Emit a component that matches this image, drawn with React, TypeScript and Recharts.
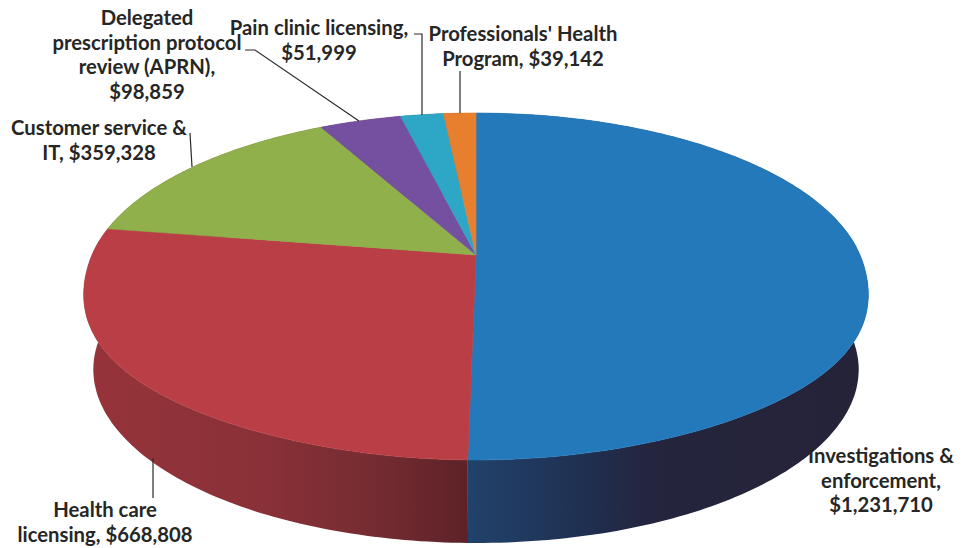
import React from "react";
import { PieChart, Pie } from "recharts";

const categories = [
  "Investigations & enforcement",
  "Health care licensing",
  "Customer service & IT",
  "Delegated prescription protocol review (APRN)",
  "Pain clinic licensing",
  "Professionals' Health Program",
];
const amounts = [1231710, 668808, 359328, 98859, 51999, 39142];
const topColors = ["#2479bb", "#b93e45", "#8fb04a", "#7550a0", "#2ea6c6", "#e87f2e"];
const wallIds = ["wallBlue", "wallRed", "wallRed", "wallRed", "wallRed", "wallRed"];

const labelLines = [
  ["Investigations &", "enforcement,", "$1,231,710"],
  ["Health care", "licensing, $668,808"],
  ["Customer service &", "IT, $359,328"],
  ["Delegated", "prescription protocol", "review (APRN),", "$98,859"],
  ["Pain clinic licensing,", "$51,999"],
  ["Professionals' Health", "Program, $39,142"],
];

// label anchor (centre x, first baseline) and leader line for each slice
const labelPos = [
  { x: 881, y: 463, leader: "" },
  { x: 105, y: 517, leader: "M153,458 L153,498" },
  { x: 99, y: 135, leader: "M190,133 L192,167" },
  { x: 147, y: 25, leader: "M245,50 L255,50 L359,121" },
  { x: 319, y: 35, leader: "M414,34 L422,34 L422,115" },
  { x: 523, y: 41, leader: "M460,71 L460,113" },
];

const data = categories.map((name, i) => ({ name, value: amounts[i], fill: topColors[i] }));

// the pie is tilted: project the circle with a small perspective so that the
// apex sits above the middle of the ellipse, like the 3-D chart it copies
const CX = 476;
const APEX_Y = 255;
const TOP_Y = 113;
const BOTTOM_Y = 460;
const WIDTH_R = 384;
const DEPTH = 83;
const persp = (2 * APEX_Y - TOP_Y - BOTTOM_Y) / (TOP_Y - BOTTOM_Y);
const tilt = TOP_Y + TOP_Y * persp - APEX_Y;

function project(angle: number, lower = false) {
  const t = ((90 - angle) * Math.PI) / 180;
  const u = Math.sin(t);
  const v = Math.cos(t);
  const den = 1 + persp * v;
  // the near half of the upper rim is a little fuller than a plain ellipse
  const bulge = v < 0 && !lower ? 1 + 0.12 * (u * v) ** 2 : 1;
  const r = (lower ? WIDTH_R * 0.98 : WIDTH_R) * bulge;
  return {
    x: CX + (r * u) / den,
    y: (tilt * v + APEX_Y) / den + (lower ? DEPTH : 0),
  };
}

function arc(start: number, end: number, lower = false) {
  const pts = [];
  const n = Math.max(2, Math.ceil(Math.abs(end - start)));
  for (let i = 0; i <= n; i++) {
    pts.push(project(start + ((end - start) * i) / n, lower));
  }
  return pts;
}

const toPath = (pts: { x: number; y: number }[]) =>
  pts.map((p, i) => `${i ? "L" : "M"}${p.x.toFixed(1)},${p.y.toFixed(1)}`).join(" ") + " Z";

function TopSlice(props: any) {
  const pts = [{ x: CX, y: APEX_Y }, ...arc(props.startAngle, props.endAngle)];
  return <path d={toPath(pts)} fill={props.fill} stroke={props.fill} strokeWidth={0.6} />;
}

// one quad per step, all in a single path, so the wall keeps its straight
// sides where the upper and lower rims turn away from each other
function WallSlice(props: any) {
  const idx = categories.indexOf(props.name);
  const upper = arc(props.startAngle, props.endAngle);
  const lower = arc(props.startAngle, props.endAngle, true);
  const quads = [];
  for (let i = 0; i < upper.length - 1; i++) {
    quads.push(toPath([upper[i], upper[i + 1], lower[i + 1], lower[i]]));
  }
  return <path d={quads.join(" ")} fill={`url(#${wallIds[idx]})`} />;
}

function renderLabel(props: any) {
  const idx = categories.indexOf(props.name);
  const pos = labelPos[idx];
  return (
    <g key={props.name}>
      {pos.leader ? <path d={pos.leader} fill="none" stroke="#2b2b2b" strokeWidth={1.2} /> : null}
      <text
        textAnchor="middle"
        fontFamily="Lato"
        fontWeight={700}
        fontSize={20.3}
        fill="#262626"
      >
        {labelLines[idx].map((line, i) => (
          <tspan key={line} x={pos.x} y={pos.y + i * 24.6}>
            {line}
          </tspan>
        ))}
      </text>
    </g>
  );
}

export default function App() {
  return (
    <div style={{ position: "absolute", left: 0, top: 0, width: 971, height: 548, background: "#fff" }}>
      <PieChart width={971} height={548} margin={{ top: 0, right: 0, bottom: 0, left: 0 }}>
        <defs>
          <linearGradient id="wallRed" gradientUnits="userSpaceOnUse" x1={84} y1={0} x2={470} y2={0}>
            <stop offset="0%" stopColor="#97333a" />
            <stop offset="45%" stopColor="#8a3138" />
            <stop offset="75%" stopColor="#752c32" />
            <stop offset="100%" stopColor="#5c2227" />
          </linearGradient>
          <linearGradient id="wallBlue" gradientUnits="userSpaceOnUse" x1={468} y1={0} x2={868} y2={0}>
            <stop offset="0%" stopColor="#21426b" />
            <stop offset="30%" stopColor="#1f2f50" />
            <stop offset="45%" stopColor="#24253e" />
            <stop offset="100%" stopColor="#252338" />
          </linearGradient>
        </defs>
        <Pie
          data={data}
          dataKey="value"
          nameKey="name"
          cx={476}
          cy={286}
          outerRadius={173}
          startAngle={90}
          endAngle={-270}
          stroke="none"
          shape={WallSlice}
          isAnimationActive={false}
        />
        <Pie
          data={data}
          dataKey="value"
          nameKey="name"
          cx={476}
          cy={286}
          outerRadius={173}
          startAngle={90}
          endAngle={-270}
          stroke="none"
          shape={TopSlice}
          label={renderLabel}
          labelLine={false}
          isAnimationActive={false}
        />
      </PieChart>
    </div>
  );
}
